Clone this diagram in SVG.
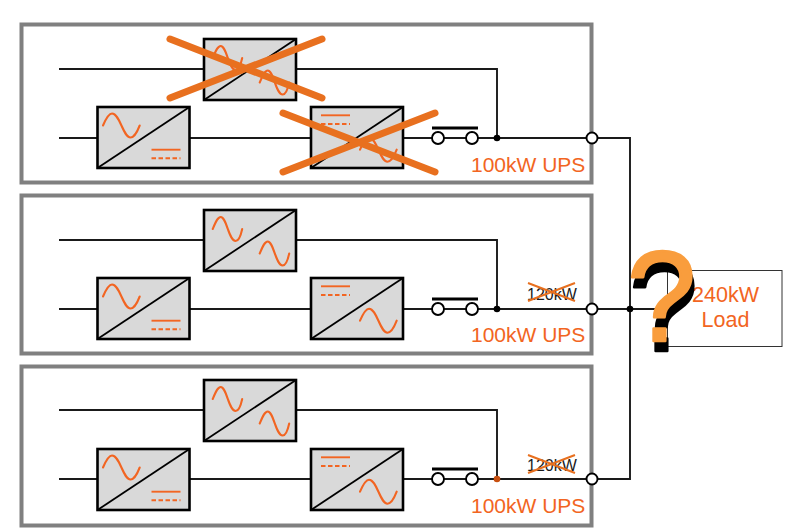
<svg xmlns="http://www.w3.org/2000/svg" width="793" height="531" viewBox="0 0 793 531">
<style>
text{font-family:"Liberation Sans",Arial,sans-serif}
.frame{fill:none;stroke:#808080;stroke-width:4}
.wire{fill:none;stroke:#1a1a1a;stroke-width:1.9}
.box{fill:#d9d9d9;stroke:#000;stroke-width:2.600}
.diag{stroke:#000;stroke-width:1.800}
.sine{fill:none;stroke:#f26522;stroke-width:2.100;stroke-linecap:round}
.dc{stroke:#f26522;stroke-width:1.900;fill:none}
.dash{stroke-dasharray:4.500 2.500}
.cont{fill:#fff;stroke:#000;stroke-width:1.900}
.bar{stroke:#000;stroke-width:2.800}
.x{stroke:#e8701f;stroke-width:7;stroke-linecap:round}
.xs{stroke:#e8701f;stroke-width:2}
.ups{fill:#f26522;font-size:21px}
.kw{fill:#1a1a1a;font-size:16px}
</style>
<defs>
<path id="s" class="sine" d="M0 0C3 -7 5 -12 8 -12C14 -12 16 12 23 12C26 12 28 7 29.500 0"/>
<path id="sw" class="sine" d="M0 0C3 -7 6 -12 9 -12C17 -12 20 12 27.500 12C31 12 34 7 36.700 0"/>
<g id="frame-base"><rect class="box" x="0" y="0" width="92" height="61"/><path class="diag" d="M0 61L92 0"/></g>
<g id="bypass"><use href="#frame-base"/><use href="#s" x="8.700" y="19"/><use href="#s" x="55.700" y="43.500"/></g>
<g id="rect"><use href="#frame-base"/><use href="#sw" x="5.500" y="18.500"/><path class="dc" d="M54 42.700H83"/><path class="dc dash" d="M54 51.300H83"/></g>
<g id="inv"><use href="#frame-base"/><path class="dc" d="M10 8.300H39"/><path class="dc dash" d="M10 17H39"/><use href="#sw" x="49" y="42.700"/></g>
</defs>
<rect width="793" height="531" fill="#fff"/>
<g id="ups1"><rect class="frame" x="21.500" y="24.500" width="570" height="158"/></g>
<g id="ups2"><rect class="frame" x="21.500" y="195.500" width="570" height="158"/></g>
<g id="ups3"><rect class="frame" x="21.500" y="366.500" width="570" height="159"/></g>
<g id="connectors">
<path class="wire" d="M59 69H497V138M59 138H432M444 138H466M478 138H586M597 138H630V479H597M59 240H497V309M59 309H432M444 309H466M478 309H586M597 309H667M59 410H497V479M59 479H432M444 479H466M478 479H586"/>
<circle cx="497" cy="138" r="3.300"/><circle cx="497" cy="309" r="3.300"/><circle cx="630" cy="309" r="3.300"/>
<circle cx="497" cy="479" r="3.300" fill="#c8500f"/>
</g>
<g id="bypass1"><use href="#bypass" x="204" y="39"/></g>
<g id="rect1"><use href="#rect" x="97.500" y="107"/></g>
<g id="inv1"><use href="#inv" x="311" y="107"/></g>
<g id="bypass2"><use href="#bypass" x="204" y="210"/></g>
<g id="rect2"><use href="#rect" x="97.500" y="278"/></g>
<g id="inv2"><use href="#inv" x="311" y="278"/></g>
<g id="bypass3"><use href="#bypass" x="204" y="380"/></g>
<g id="rect3"><use href="#rect" x="97.500" y="449"/></g>
<g id="inv3"><use href="#inv" x="311" y="449"/></g>
<g id="switch1"><path class="bar" d="M432 128H478"/><circle class="cont" cx="438" cy="138" r="6"/><circle class="cont" cx="472" cy="138" r="6"/></g>
<g id="switch2"><path class="bar" d="M432 299H478"/><circle class="cont" cx="438" cy="309" r="6"/><circle class="cont" cx="472" cy="309" r="6"/></g>
<g id="switch3"><path class="bar" d="M432 469H478"/><circle class="cont" cx="438" cy="479" r="6"/><circle class="cont" cx="472" cy="479" r="6"/></g>
<g id="out1"><circle class="cont" cx="592" cy="138" r="5.500"/></g>
<g id="out2"><circle class="cont" cx="592" cy="309" r="5.500"/></g>
<g id="out3"><circle class="cont" cx="592" cy="479" r="5.500"/></g>
<g id="cross1"><path class="x" d="M170 39L322 98M170 98L322 39"/></g>
<g id="cross2"><path class="x" d="M283 113L435 172M283 172L435 113"/></g>
<g id="label1"><text class="ups" x="471" y="172">100kW UPS</text></g>
<g id="label2"><text class="ups" x="471" y="342">100kW UPS</text><text class="kw" x="527" y="300">120kW</text><path class="xs" d="M528 301L575 283M528 283L575 301"/></g>
<g id="label3"><text class="ups" x="471" y="513">100kW UPS</text><text class="kw" x="527" y="471">120kW</text><path class="xs" d="M528 473L575 455M528 455L575 473"/></g>
<g id="load"><rect x="667.500" y="270.500" width="114.500" height="76" fill="#fff" stroke="#333" stroke-width="1"/>
<text x="725.500" y="302" font-size="21.500" fill="#f26522" text-anchor="middle">240kW</text>
<text x="725.500" y="327" font-size="21.500" fill="#f26522" text-anchor="middle">Load</text></g>
<g id="question" font-size="128" stroke-width="2.500" stroke-linejoin="round">
<text transform="translate(629 351) scale(.97 1)" fill="#000" stroke="#000">?</text>
<text transform="translate(627 341) scale(.97 1)" fill="#f99d3d" stroke="#f99d3d">?</text>
</g>
</svg>
